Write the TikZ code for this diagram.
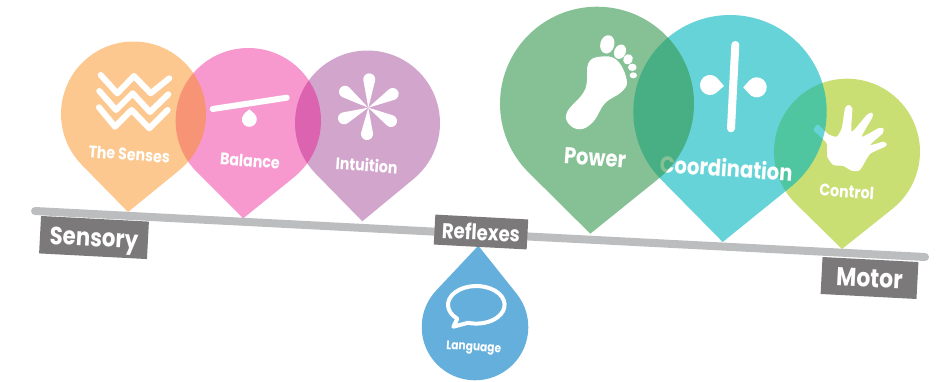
\documentclass[tikz,border=0pt]{standalone}
\usepackage{fontspec}
\setmainfont[FakeStretch=0.85]{Poppins}
\definecolor{barGray}{HTML}{BCBDBF}
\definecolor{tagGray}{HTML}{7B797A}
\definecolor{sensesCol}{HTML}{F9911F}
\definecolor{balanceCol}{HTML}{EB0087}
\definecolor{intuitionCol}{HTML}{D2A5CC}
\definecolor{powerCol}{HTML}{34984D}
\definecolor{coordCol}{HTML}{00B6BE}
\definecolor{controlCol}{HTML}{C9DF74}
\definecolor{languageCol}{HTML}{64AFDC}
\tikzset{
tagbox/.style={fill=tagGray, text=white, rotate=-3, inner sep=0pt, text depth=0pt, minimum width=#1},
pinlabel/.style={text=white, rotate=-4, inner sep=0pt},
iconline/.style={draw=white, line cap=round, line join=round}
}
\newcommand{\dropshape}[6]{%
\pgfmathsetmacro\dropdist{veclen(#4-#1,#5-#2)}
\pgfmathsetmacro\dropdir{atan2(#5-#2,#4-#1)}
\pgfmathsetmacro\drophalf{acos(#3/\dropdist)}
\fill[#6] (#4,#5) -- ({#1+#3*cos(\dropdir+\drophalf)},{#2+#3*sin(\dropdir+\drophalf)})
arc[start angle=\dropdir+\drophalf, delta angle=360-2*\drophalf, radius=#3] -- cycle;
}
\begin{document}
\begin{tikzpicture}[x=1pt, y=-1pt]
\useasboundingbox (0,0) rectangle (941,381);
\coordinate (barL) at (35,211);
\coordinate (barR) at (925,257);
\draw[line width=8pt, barGray, line cap=round] (barL) -- (barR);

\dropshape{367.5}{123}{72.5}{362.3}{221.3}{intuitionCol}
\dropshape{248.3}{120.7}{72.7}{243.3}{218.3}{balanceCol, fill opacity=0.4}
\dropshape{133.5}{114}{72.5}{128}{212}{sensesCol, fill opacity=0.5}

\draw[iconline, line width=6pt] (100.7,75) -- (117.3,93.3) -- (134,76) -- (150.7,93.3) -- (169.3,78.3);
\draw[iconline, line width=6pt] (99.3,91) -- (116,110) -- (132.7,93.3) -- (150,112) -- (168.3,94.3);
\draw[iconline, line width=6pt] (99,107.3) -- (115,126.7) -- (131.7,110) -- (149.3,128.3) -- (167.7,110);
\node[pinlabel, font=\bfseries\fontsize{16.7}{18}\selectfont] (senses) at (129.3,154.3) {The Senses};

\draw[iconline, line width=6pt] (212.7,109) -- (286.7,97.7);
\dropshape{249.3}{119.3}{7.5}{249.3}{109.3}{white}
\node[pinlabel, font=\bfseries\fontsize{16.7}{18}\selectfont] (balance) at (250,160.7) {Balance};

\dropshape{369.3}{79.3}{6}{368.3}{107.7}{white}
\dropshape{392.7}{94}{6}{368.3}{107.7}{white}
\dropshape{391}{121}{6}{368.3}{107.7}{white}
\dropshape{367}{134}{6}{368.3}{107.7}{white}
\dropshape{344}{118.3}{6}{368.3}{107.7}{white}
\dropshape{345}{91.7}{6}{368.3}{107.7}{white}
\node[pinlabel, font=\bfseries\fontsize{16.7}{18}\selectfont] (intuition) at (366.7,165) {Intuition};

\dropshape{847}{151.7}{73}{842}{249}{controlCol}
\fill[white] plot[smooth cycle, tension=0.35] coordinates {(818,124.5) (828,134) (836.7,136.7) (841.7,128.3) (845,108.3) (848.3,105) (852.3,108.3) (851.7,131.7) (866.7,115) (871.7,112.7) (872.7,116.7) (861.7,136.7) (878.3,128.3) (883.3,128.3) (882.7,133.3) (870,145) (883.3,141.7) (886.7,144) (885,146.7) (870,154) (860,170) (851.7,170.7) (843.3,166) (833.3,165) (827.3,156.7) (826.7,143.3) (818,134.5) (813.5,130)};
\node[pinlabel, font=\bfseries\fontsize{16.7}{18}\selectfont] (control) at (846.7,191.7) {Control};

\dropshape{730}{111.7}{96.7}{722.7}{242}{coordCol, fill opacity=0.6}
\draw[iconline, line width=8pt] (735.3,45) -- (731,128.3);
\dropshape{710}{85}{10}{724}{86}{white}
\dropshape{756.7}{87.3}{10}{743.3}{87.3}{white}
\node[pinlabel, font=\bfseries\fontsize{23}{24}\selectfont] (coordination) at (726.3,167.7) {Coordination};

\dropshape{597}{103.7}{97}{590.3}{233.7}{powerCol, fill opacity=0.6}
\fill[white] plot[smooth cycle, tension=0.7] coordinates {(600,56.7) (616.7,60) (626.7,80) (621.7,91.7) (605,103.3) (593.3,121.7) (580,129.3) (568.3,123.3) (567.3,111.7) (581.7,95) (586.7,83.3) (588.3,63.3)};
\fill[white, rotate around={-15:(607.3,44.3)}] (607.3,44.3) ellipse[x radius=7, y radius=9.3];
\fill[white, rotate around={-25:(620,51.7)}] (620,51.7) ellipse[x radius=5.7, y radius=7.5];
\fill[white, rotate around={-30:(628,59.3)}] (628,59.3) ellipse[x radius=4.7, y radius=5.3];
\fill[white] (632.3,67.3) ellipse[x radius=4.3, y radius=3.7];
\fill[white] (633.3,75.3) ellipse[x radius=3.7, y radius=3];
\node[pinlabel, font=\bfseries\fontsize{23}{24}\selectfont] (power) at (595,158) {Power};

\dropshape{475}{327}{53.3}{478.3}{245.7}{languageCol}
\draw[iconline, line width=4pt] (453.3,326.7) -- ({476.3+28.3*cos(132)},{304.8+18.8*sin(132)}) arc[start angle=132, delta angle=335, x radius=28.3, y radius=18.8] -- cycle;
\node[pinlabel, font=\bfseries\fontsize{12.5}{13}\selectfont] (language) at (473.7,348.3) {Language};

\node[tagbox=108pt, minimum height=37.5pt, font=\bfseries\fontsize{25}{26}\selectfont] (sensory) at (94,237.5) {Sensory};
\node[tagbox=93pt, minimum height=30pt, font=\bfseries\fontsize{21.4}{22}\selectfont] (reflexes) at (481,232) {Reflexes};
\node[tagbox=96pt, minimum height=37pt, font=\bfseries\fontsize{25.8}{27}\selectfont] (motor) at (869.5,278) {Motor};
\end{tikzpicture}
\end{document}
